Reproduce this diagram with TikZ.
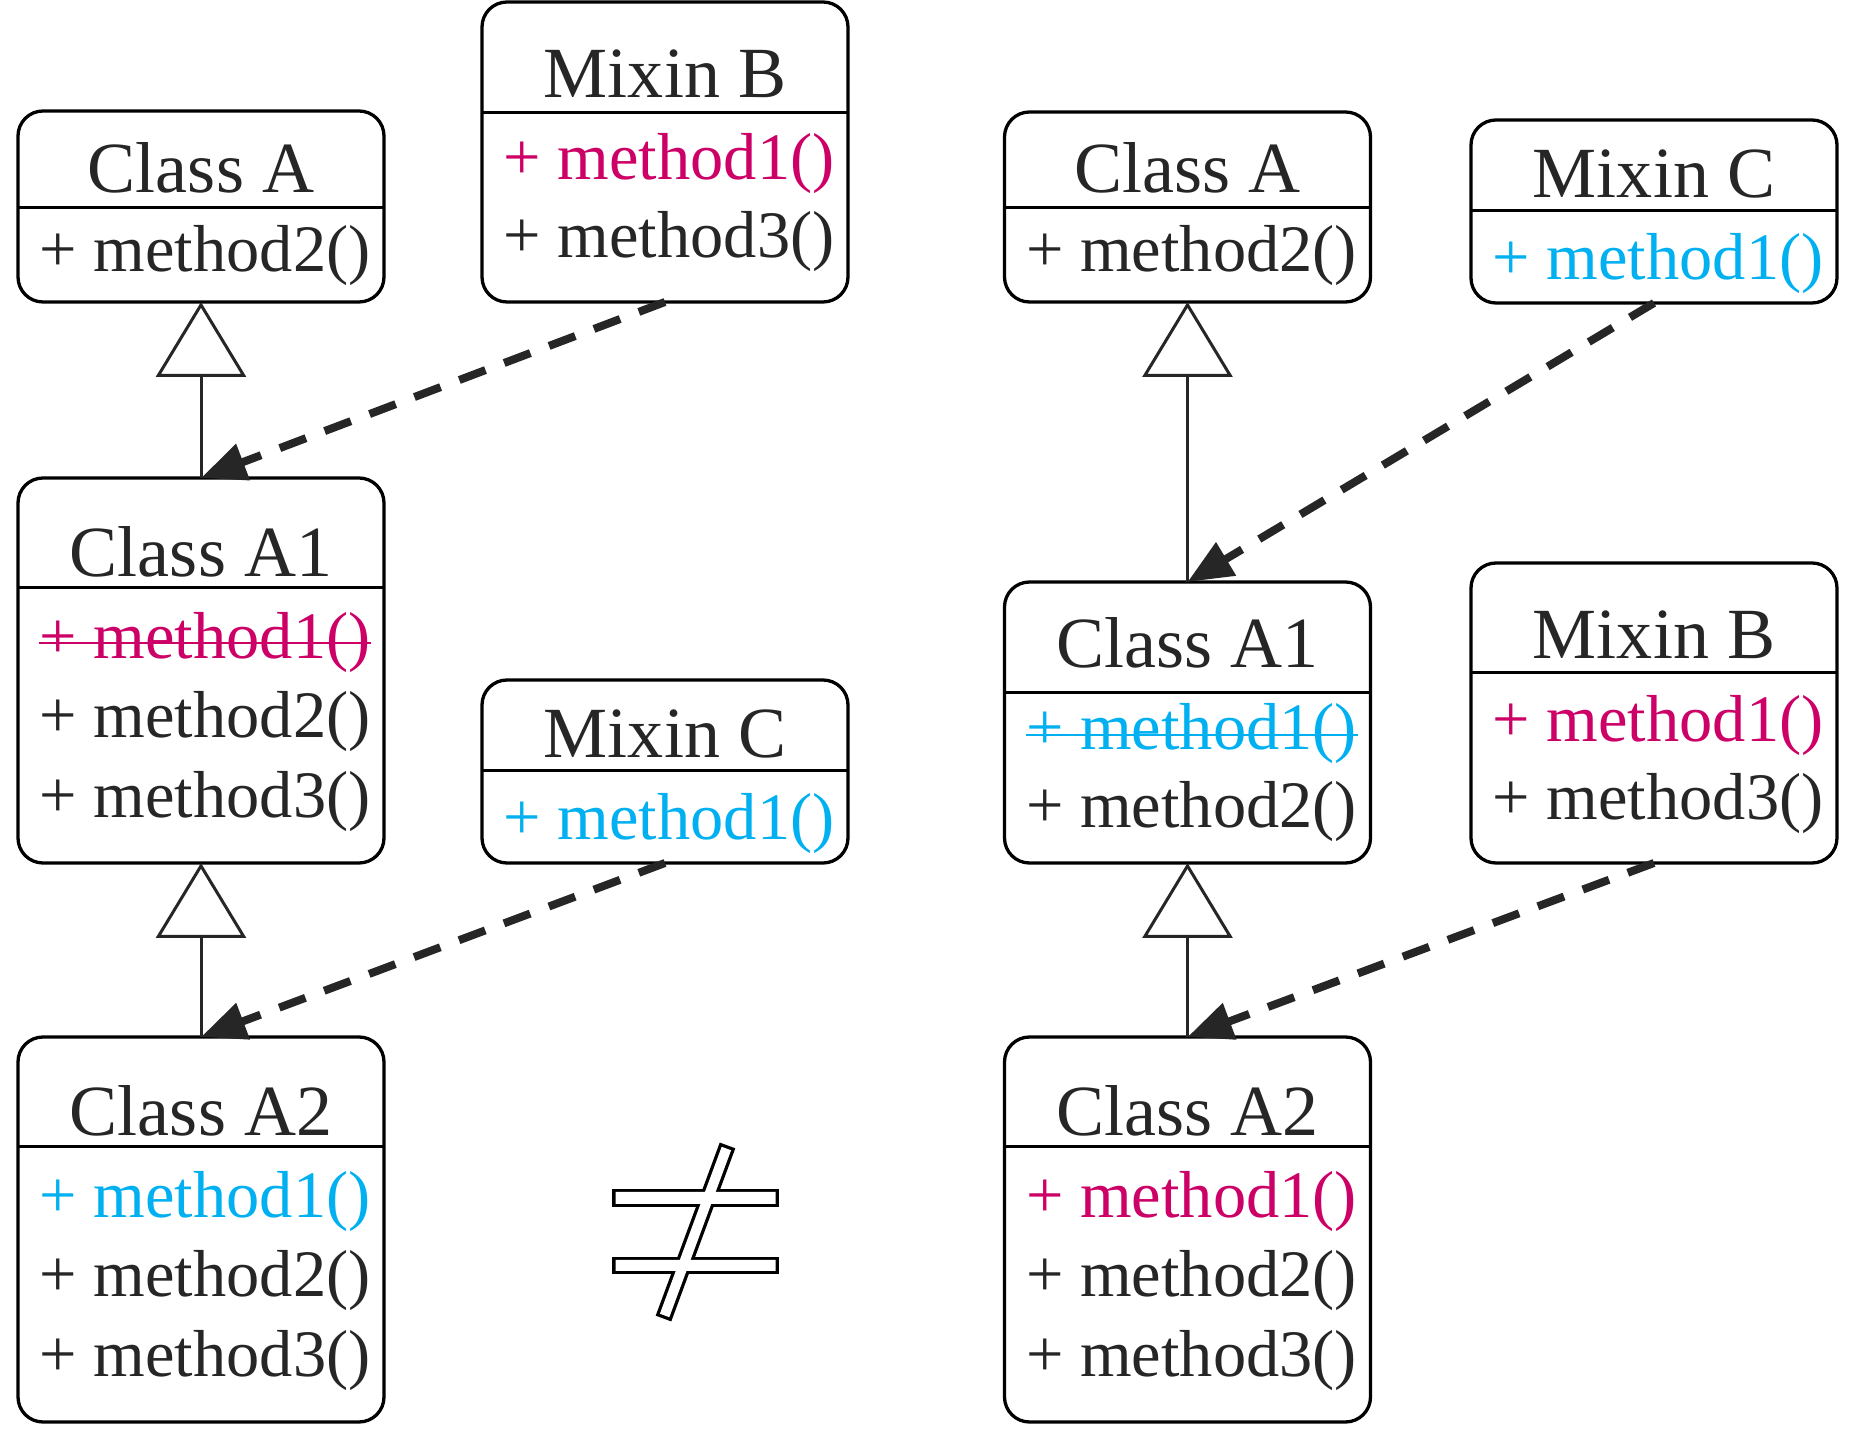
\documentclass[tikz,border=0pt]{standalone}
\usepackage{fontspec}
\setmainfont{Liberation Serif}
\usetikzlibrary{arrows.meta}
\definecolor{ink}{RGB}{38,38,38}
\definecolor{overrideRed}{RGB}{204,0,102}
\definecolor{overrideBlue}{RGB}{0,176,240}

\begin{document}
\begin{tikzpicture}[
    framebox/.style={draw=black, line width=0.033cm, rounded corners=0.25cm, minimum width=3.66cm, inner sep=0pt, outer sep=0pt, anchor=north west},
    classtitle/.style={anchor=base, inner sep=0pt, text=ink, font=\fontsize{20.5}{24}\selectfont},
    methodline/.style={anchor=base west, inner sep=0pt, text=ink, font=\fontsize{18.9}{22}\selectfont},
    divider/.style={draw=black, line width=0.03cm},
    strike/.style={line width=0.025cm},
    extends/.style={draw=ink, line width=0.03cm, -{Triangle[length=0.75cm, width=0.9cm, fill=white]}},
    mixes/.style={draw=ink, line width=0.08cm, dash pattern=on 0.28cm off 0.2cm, -{Triangle[length=0.45cm, width=0.37cm]}}
]
    \fill[white] (0,0) rectangle (18.64,-14.30);

    % left: A <- A1 <- A2, mixins B then C
    \node[framebox, minimum height=1.91cm] (leftA) at (0.18,-1.11) {};
    \draw[divider] ([yshift=-0.97cm]leftA.north west) -- ([yshift=-0.97cm]leftA.north east);
    \node[classtitle] (leftAname) at ([yshift=-0.82cm]leftA.north) {Class A};
    \node[methodline] (leftAmtwo) at ([xshift=0.21cm, yshift=-1.61cm]leftA.north west) {+ method2()};

    \node[framebox, minimum height=3.00cm] (leftB) at (4.82,-0.02) {};
    \draw[divider] ([yshift=-1.11cm]leftB.north west) -- ([yshift=-1.11cm]leftB.north east);
    \node[classtitle] (leftBname) at ([yshift=-0.96cm]leftB.north) {Mixin B};
    \node[methodline, text=overrideRed] (leftBmone) at ([xshift=0.21cm, yshift=-1.78cm]leftB.north west) {+ method1()};
    \node[methodline] (leftBmthree) at ([yshift=-0.78cm]leftBmone.base west) {+ method3()};

    \node[framebox, minimum height=3.85cm] (leftAone) at (0.18,-4.78) {};
    \draw[divider] ([yshift=-1.10cm]leftAone.north west) -- ([yshift=-1.10cm]leftAone.north east);
    \node[classtitle] (leftAonename) at ([yshift=-0.99cm]leftAone.north) {Class A1};
    \node[methodline, text=overrideRed] (leftAonemone) at ([xshift=0.21cm, yshift=-1.81cm]leftAone.north west) {+ method1()};
    \draw[overrideRed, strike] ([yshift=0.16cm]leftAonemone.base west) -- ([yshift=0.16cm]leftAonemone.base east);
    \node[methodline] (leftAonemtwo) at ([yshift=-0.79cm]leftAonemone.base west) {+ method2()};
    \node[methodline] (leftAonemthree) at ([yshift=-0.80cm]leftAonemtwo.base west) {+ method3()};

    \node[framebox, minimum height=1.83cm] (leftC) at (4.82,-6.80) {};
    \draw[divider] ([yshift=-0.91cm]leftC.north west) -- ([yshift=-0.91cm]leftC.north east);
    \node[classtitle] (leftCname) at ([yshift=-0.78cm]leftC.north) {Mixin C};
    \node[methodline, text=overrideBlue] (leftCmone) at ([xshift=0.21cm, yshift=-1.60cm]leftC.north west) {+ method1()};

    \node[framebox, minimum height=3.85cm] (leftAtwo) at (0.18,-10.37) {};
    \draw[divider] ([yshift=-1.10cm]leftAtwo.north west) -- ([yshift=-1.10cm]leftAtwo.north east);
    \node[classtitle] (leftAtwoname) at ([yshift=-0.99cm]leftAtwo.north) {Class A2};
    \node[methodline, text=overrideBlue] (leftAtwomone) at ([xshift=0.21cm, yshift=-1.81cm]leftAtwo.north west) {+ method1()};
    \node[methodline] (leftAtwomtwo) at ([yshift=-0.79cm]leftAtwomone.base west) {+ method2()};
    \node[methodline] (leftAtwomthree) at ([yshift=-0.80cm]leftAtwomtwo.base west) {+ method3()};

    % right: same classes, mixins C then B
    \node[framebox, minimum height=1.90cm] (rightA) at (10.045,-1.12) {};
    \draw[divider] ([yshift=-0.96cm]rightA.north west) -- ([yshift=-0.96cm]rightA.north east);
    \node[classtitle] (rightAname) at ([yshift=-0.81cm]rightA.north) {Class A};
    \node[methodline] (rightAmtwo) at ([xshift=0.21cm, yshift=-1.60cm]rightA.north west) {+ method2()};

    \node[framebox, minimum height=1.83cm] (rightC) at (14.71,-1.20) {};
    \draw[divider] ([yshift=-0.91cm]rightC.north west) -- ([yshift=-0.91cm]rightC.north east);
    \node[classtitle] (rightCname) at ([yshift=-0.78cm]rightC.north) {Mixin C};
    \node[methodline, text=overrideBlue] (rightCmone) at ([xshift=0.21cm, yshift=-1.60cm]rightC.north west) {+ method1()};

    \node[framebox, minimum height=2.81cm] (rightAone) at (10.045,-5.82) {};
    \draw[divider] ([yshift=-1.11cm]rightAone.north west) -- ([yshift=-1.11cm]rightAone.north east);
    \node[classtitle] (rightAonename) at ([yshift=-0.86cm]rightAone.north) {Class A1};
    \node[methodline, text=overrideBlue] (rightAonemone) at ([xshift=0.21cm, yshift=-1.68cm]rightAone.north west) {+ method1()};
    \draw[overrideBlue, strike] ([yshift=0.15cm]rightAonemone.base west) -- ([yshift=0.15cm]rightAonemone.base east);
    \node[methodline] (rightAonemtwo) at ([yshift=-0.78cm]rightAonemone.base west) {+ method2()};

    \node[framebox, minimum height=3.00cm] (rightB) at (14.71,-5.63) {};
    \draw[divider] ([yshift=-1.10cm]rightB.north west) -- ([yshift=-1.10cm]rightB.north east);
    \node[classtitle] (rightBname) at ([yshift=-0.96cm]rightB.north) {Mixin B};
    \node[methodline, text=overrideRed] (rightBmone) at ([xshift=0.21cm, yshift=-1.79cm]rightB.north west) {+ method1()};
    \node[methodline] (rightBmthree) at ([yshift=-0.78cm]rightBmone.base west) {+ method3()};

    \node[framebox, minimum height=3.85cm] (rightAtwo) at (10.045,-10.37) {};
    \draw[divider] ([yshift=-1.10cm]rightAtwo.north west) -- ([yshift=-1.10cm]rightAtwo.north east);
    \node[classtitle] (rightAtwoname) at ([yshift=-0.99cm]rightAtwo.north) {Class A2};
    \node[methodline, text=overrideRed] (rightAtwomone) at ([xshift=0.21cm, yshift=-1.81cm]rightAtwo.north west) {+ method1()};
    \node[methodline] (rightAtwomtwo) at ([yshift=-0.79cm]rightAtwomone.base west) {+ method2()};
    \node[methodline] (rightAtwomthree) at ([yshift=-0.80cm]rightAtwomtwo.base west) {+ method3()};

    % inheritance
    \draw[extends] (leftAone.north) -- (leftA.south);
    \draw[extends] (leftAtwo.north) -- (leftAone.south);
    \draw[extends] (rightAone.north) -- (rightA.south);
    \draw[extends] (rightAtwo.north) -- (rightAone.south);

    % mixins
    \draw[mixes] (leftB.south) -- (leftAone.north);
    \draw[mixes] (leftC.south) -- (leftAtwo.north);
    \draw[mixes] (rightC.south) -- (rightAone.north);
    \draw[mixes] (rightB.south) -- (rightAtwo.north);

    % not equal sign, outlined
    \begin{scope}[shift={(6.955,-12.32)}]
        \draw[black, line width=0.066cm] (-0.80,0.28) rectangle (0.80,0.40) (-0.80,-0.28) rectangle (0.80,-0.39);
        \draw[black, line width=0.066cm, rotate=69.7] (-0.89,-0.05) rectangle (0.89,0.05);
        \fill[white] (-0.80,0.28) rectangle (0.80,0.40) (-0.80,-0.28) rectangle (0.80,-0.39);
        \fill[white, rotate=69.7] (-0.89,-0.05) rectangle (0.89,0.05);
    \end{scope}
\end{tikzpicture}
\end{document}
